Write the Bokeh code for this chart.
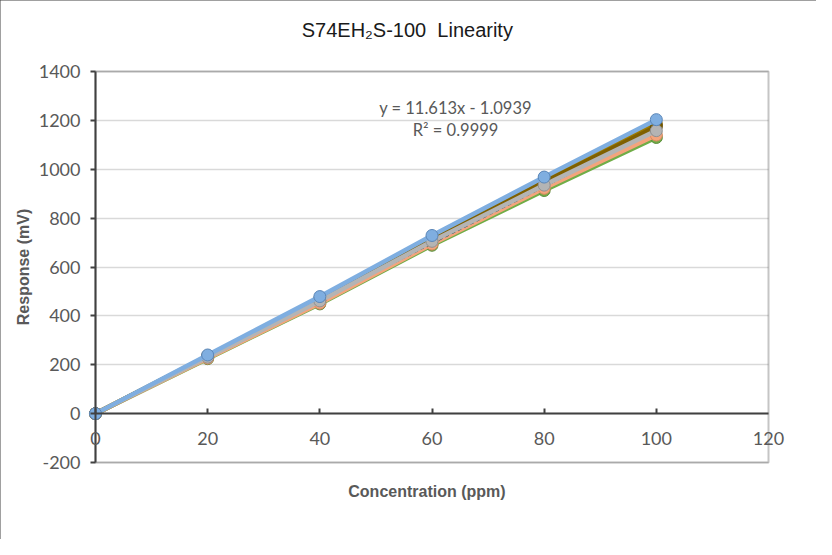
from bokeh.plotting import figure
from bokeh.models import (Range1d, FixedTicker, Label, LabelSet, ColumnDataSource,
                          PrintfTickFormatter, BoxAnnotation)
from bokeh.core.properties import value
from bokeh.embed import file_html
from bokeh.resources import INLINE

# ---- data ----
conc = [0, 20, 40, 60, 80, 100]

series_colors = ["#70AD47", "#F4A47C", "#9C7A00", "#7F6000", "#B4B4B4", "#7FAEE0"]
series_values = [
    [0, 225, 449, 689, 913, 1130],
    [0, 227, 452, 694, 922, 1140],
    [0, 236, 470, 717, 955, 1185],
    [0, 234, 466, 712, 948, 1175],
    [0, 231, 461, 705, 935, 1158],
    [0, 240, 479, 729, 968, 1203],
]
marker_edges = ["#5A8C39", "#D98A60", "#7A5C00", "#5F4800", "#909090", "#5A86B8"]

slope = 11.613
intercept = -1.0939
trend_x = [0, 100]

x_ticks = [0, 20, 40, 60, 80, 100, 120]
x_tick_labels = ["0", "20", "40", "60", "80", "100", "120"]
y_ticks = [-200, 0, 200, 400, 600, 800, 1000, 1200, 1400]
x_min, x_max = 0, 120
y_min, y_max = -200, 1400

title_text = "S74EH\u2082S-100\u00a0 Linearity"
x_title = "Concentration (ppm)"
y_title = "Response (mV)"
eq_text = "y = 11.613x - 1.0939"
r2_text = "R\u00b2 = 0.9999"

# ---- layout (pixels) ----
W, H = 816, 539
left_px, right_px, top_px, bottom_px = 95, 768, 71, 462
sx = (right_px - left_px) / (x_max - x_min)
sy = (bottom_px - top_px) / (y_max - y_min)
xr = Range1d(x_min - left_px / sx, x_max + (W - right_px) / sx)
yr = Range1d(y_min - (H - bottom_px) / sy, y_max + top_px / sy)

p = figure(width=W, height=H, output_backend="svg", toolbar_location=None,
           x_range=xr, y_range=yr, min_border=0)
p.styles = {"outline": "2px solid #404040", "outline-offset": "-2px"}
p.outline_line_color = None

p.xgrid.grid_line_color = None
p.ygrid.grid_line_color = "#D9D9D9"
p.ygrid.grid_line_width = 1.5
p.ygrid.ticker = FixedTicker(ticks=y_ticks)
p.ygrid.cross_bounds = (x_min, x_max)

p.xaxis.ticker = FixedTicker(ticks=x_ticks[:-1])
p.yaxis.ticker = FixedTicker(ticks=y_ticks)
p.yaxis.formatter = PrintfTickFormatter(format="%d")
p.xaxis.fixed_location = 0
p.yaxis.fixed_location = 0
p.xaxis.bounds = (x_min, x_max)
p.yaxis.bounds = (y_min, y_max)
for ax in (p.xaxis, p.yaxis):
    ax.axis_line_color = "#404040"
    ax.axis_line_width = 2
    ax.major_tick_line_color = "#404040"
    ax.major_tick_line_width = 2
    ax.minor_tick_line_color = None
    ax.major_label_text_font = "Lato"
    ax.major_label_text_font_size = "18px"
    ax.major_label_text_color = "#595959"

p.xaxis.major_tick_in = 5
p.xaxis.major_tick_out = 0
p.xaxis.major_label_text_color = None
p.yaxis.major_tick_in = 0
p.yaxis.major_tick_out = 5
p.yaxis.major_label_standoff = 10

p.yaxis.axis_label = y_title
p.yaxis.axis_label_text_font = "Liberation Sans"
p.yaxis.axis_label_text_font_size = "16px"
p.yaxis.axis_label_text_font_style = "bold"
p.yaxis.axis_label_text_color = "#595959"
p.yaxis.axis_label_standoff = 4

p.add_layout(BoxAnnotation(left=x_min, right=x_max, bottom=y_min, top=y_max,
                           fill_alpha=0, line_color="#404040", line_width=2, level="underlay"))

n = len(series_values)
for i, (vals, col, edge) in enumerate(zip(series_values, series_colors, marker_edges)):
    if i == n - 2:
        trend_y = [slope * x + intercept for x in trend_x]
        p.line(trend_x, trend_y, line_color="#2F4F5F", line_width=1.3, line_dash="4 3")
    p.line(conc, vals, line_color=col, line_width=4.5)
    p.scatter(conc, vals, size=12, fill_color=col, line_color=edge, line_width=1)

xlab_src = ColumnDataSource(dict(x=x_ticks, y=[0] * len(x_ticks), t=x_tick_labels))
p.add_layout(LabelSet(x="x", y="y", text="t", source=xlab_src, y_offset=-25,
                      text_align="center", text_baseline="middle",
                      text_font=value("Lato"), text_font_size=value("18px"), text_color="#595959"))

p.add_layout(Label(x=64.2, y=1249, text=eq_text, text_align="center", text_baseline="middle",
                   text_font="Lato", text_font_size="16.5px", text_color="#595959"))
p.add_layout(Label(x=64.2, y=1162, text=r2_text, text_align="center", text_baseline="middle",
                   text_font="Lato", text_font_size="16.5px", text_color="#595959"))
p.add_layout(Label(x=55.6, y=1571, text=title_text, text_align="center", text_baseline="middle",
                   text_font="Liberation Sans", text_font_size="20px", text_color="#1a1a1a"))
p.add_layout(Label(x=59.1, y=-319, text=x_title, text_align="center", text_baseline="middle",
                   text_font="Liberation Sans", text_font_size="16px", text_font_style="bold",
                   text_color="#595959"))

open("out.html", "w").write(file_html(p, INLINE))
